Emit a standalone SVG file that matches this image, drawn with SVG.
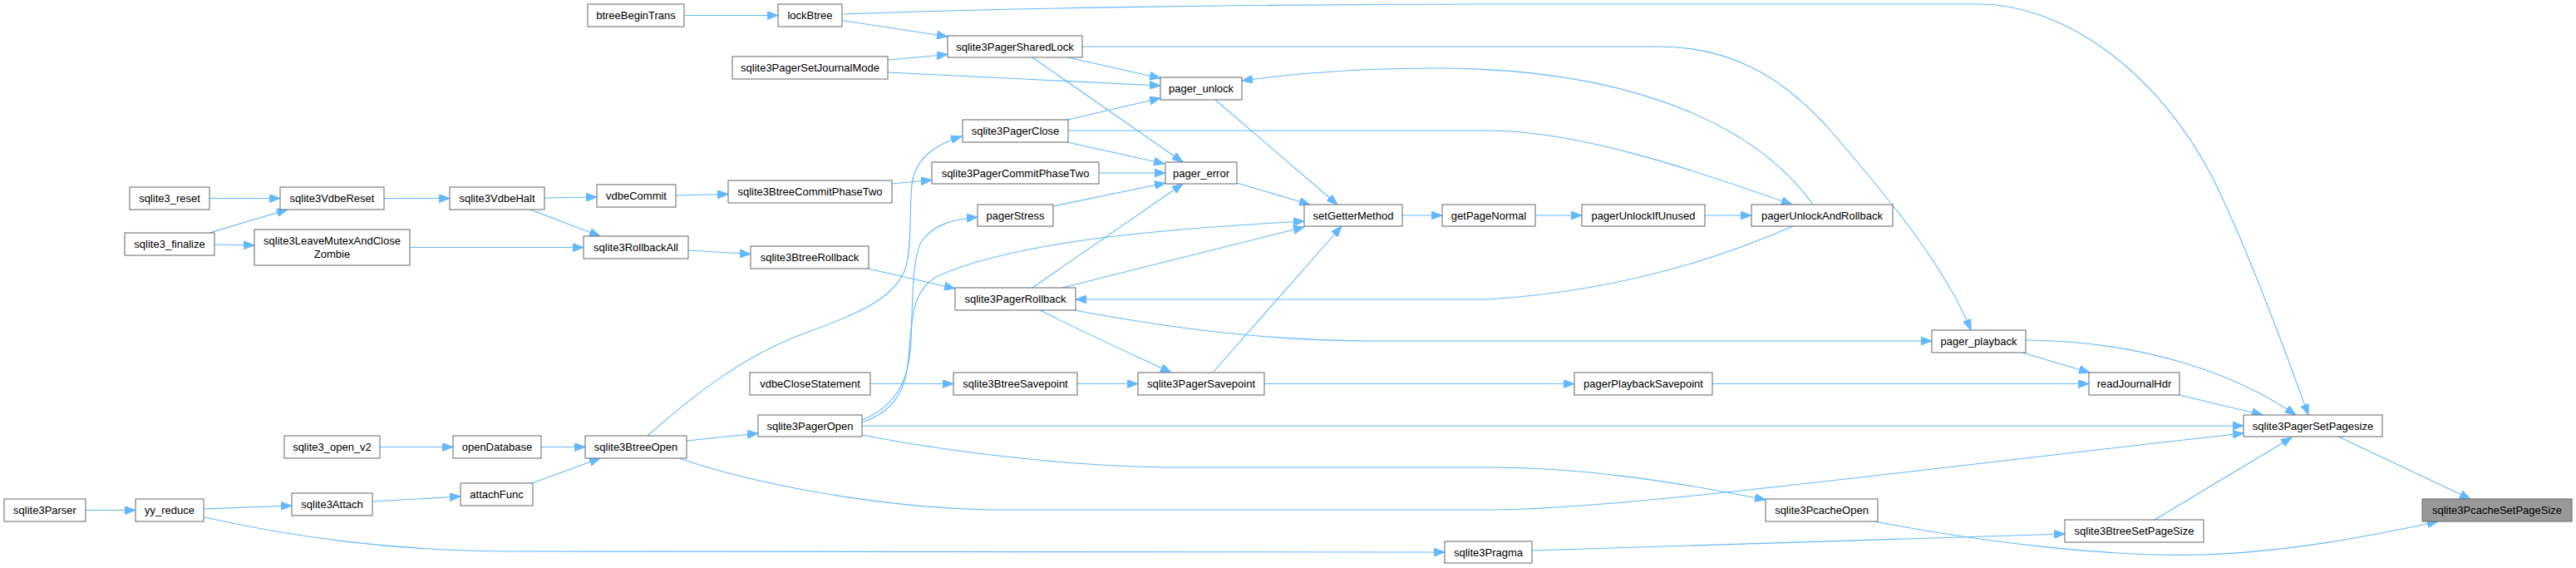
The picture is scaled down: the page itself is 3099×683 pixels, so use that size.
<svg xmlns="http://www.w3.org/2000/svg" width="3099" height="683" viewBox="0 0 3099 683">
<style>
.n rect{fill:#ffffff;stroke:#666666;stroke-width:1}
.root rect{fill:#999999;stroke:#666666;stroke-width:1}
text{font-family:"Liberation Sans",Arial,sans-serif;font-size:13px;fill:#000000;text-anchor:middle}
.e path{fill:none;stroke:#63b8ff;stroke-width:1.1;marker-end:url(#a)}
</style>
<defs>
<marker id="a" markerWidth="14" markerHeight="10" refX="13" refY="5" orient="auto" markerUnits="userSpaceOnUse">
<path d="M0,0 L13,5 L0,10 z" fill="#63b8ff" stroke="#63b8ff" stroke-width="1"/>
</marker>
</defs>
<rect width="3099" height="683" fill="#ffffff"/>
<g id="edges" class="e">
<path d="M252,238.5 L337,238.5"/>
<path d="M252,280 L346,252"/>
<path d="M258,294 L306,295"/>
<path d="M462,238.5 L541,238.5"/>
<path d="M493,297.5 L702,297.5"/>
<path d="M655,238 L718,237"/>
<path d="M638,252 L722,284"/>
<path d="M813,235 L876,233.5"/>
<path d="M828,301 L903,305.5"/>
<path d="M1073,221 L1121,216.5"/>
<path d="M1044,323 L1149,347"/>
<path d="M823,18.5 L936,18.5"/>
<path d="M1013,24.5 L1140,44"/>
<path d="M1013,17 C1200,10 1500,5 1800,5 L2380,5 C2480,5 2590,80 2660,210 C2700,290 2745,410 2777,499"/>
<path d="M1068,72 L1140,65.5"/>
<path d="M1068,87 L1396,103"/>
<path d="M1284,69 L1396,94"/>
<path d="M1242,69 L1423,195"/>
<path d="M1302,56 L1995,56 C2080,56 2140,90 2196,150 C2270,235 2340,320 2371,397"/>
<path d="M2181,246 C2120,160 1980,82 1727,82 C1640,82 1560,88 1494,97"/>
<path d="M1285,157 L1790,157 C1900,157 2040,205 2156,246"/>
<path d="M1462,120 L1609,246"/>
<path d="M1488,220 L1576,246"/>
<path d="M1278,346 L1569,273"/>
<path d="M1459,448 L1614,272"/>
<path d="M1687,259 L1735,259"/>
<path d="M1847,259 L1903,259"/>
<path d="M2051,259 L2107,259"/>
<path d="M1284,171 L1401,197"/>
<path d="M1322,208 L1402,208"/>
<path d="M1267,248 L1402,220"/>
<path d="M1242,346 L1423,221"/>
<path d="M1284,144 L1396,118"/>
<path d="M2157,272 C2070,310 1950,350 1790,360 L1294,360"/>
<path d="M1292,373 C1400,393 1520,410 1650,410 L2324,410"/>
<path d="M1251,373 C1300,398 1360,425 1409,448"/>
<path d="M1296,461.5 L1369,461.5"/>
<path d="M1047,461.5 L1147,461.5"/>
<path d="M1521,461.5 L1894,461.5"/>
<path d="M2060,461.5 L2513,461.5"/>
<path d="M2433,424 L2514,448"/>
<path d="M2437,409 C2580,410 2690,450 2762,499"/>
<path d="M2622,475 L2722,499"/>
<path d="M1037,512 L2699,512"/>
<path d="M817,551 C900,580 1050,610 1190,613 L1790,613 C1950,613 2300,565 2699,521"/>
<path d="M1037,523 C1150,545 1300,562 1420,562 L1790,562 C1900,562 2010,578 2124,601"/>
<path d="M2255,627 C2400,655 2550,670 2650,667 C2750,664 2850,645 2933,627"/>
<path d="M2813,525 L2972,600"/>
<path d="M2592,625 L2757,526"/>
<path d="M1843,662 L2484,642"/>
<path d="M246,622 C350,645 470,663 620,663 L1738,664"/>
<path d="M245,612 L351,608"/>
<path d="M103,613.5 L163,613.5"/>
<path d="M448,603 L554,597"/>
<path d="M640,581 L722,551"/>
<path d="M457,537.5 L545,537.5"/>
<path d="M651,537.5 L704,537.5"/>
<path d="M826,530 L912,521"/>
<path d="M779,524 C840,470 900,425 970,400 C1040,375 1080,355 1090,320 C1097,295 1094,250 1097,222 C1100,195 1120,175 1157,164"/>
<path d="M1037,505 C1080,488 1094,455 1096,410 C1098,350 1098,305 1110,288 C1125,270 1145,264 1176,261"/>
<path d="M1037,508 C1075,495 1090,470 1093,430 C1097,380 1098,350 1126,333 C1220,290 1400,275 1569,266"/>
</g>
<g id="sqlite3PcacheSetPageSize" class="root"><rect x="2914" y="600" width="180" height="27"/><text x="3004" y="618">sqlite3PcacheSetPageSize</text></g>
<g id="sqlite3PagerSetPagesize" class="n"><rect x="2699" y="499" width="167" height="26"/><text x="2782.5" y="516.5">sqlite3PagerSetPagesize</text></g>
<g id="sqlite3BtreeSetPageSize" class="n"><rect x="2484" y="625" width="167" height="27"/><text x="2567.5" y="643">sqlite3BtreeSetPageSize</text></g>
<g id="sqlite3PcacheOpen" class="n"><rect x="2124" y="600" width="135" height="27"/><text x="2191.5" y="618">sqlite3PcacheOpen</text></g>
<g id="readJournalHdr" class="n"><rect x="2513" y="448" width="109" height="27"/><text x="2567.5" y="466">readJournalHdr</text></g>
<g id="pager_playback" class="n"><rect x="2324" y="397" width="113" height="27"/><text x="2380.5" y="415">pager_playback</text></g>
<g id="pagerUnlockAndRollback" class="n"><rect x="2107" y="246" width="170" height="26"/><text x="2192" y="263.5">pagerUnlockAndRollback</text></g>
<g id="pagerUnlockIfUnused" class="n"><rect x="1903" y="246" width="148" height="26"/><text x="1977" y="263.5">pagerUnlockIfUnused</text></g>
<g id="pagerPlaybackSavepoint" class="n"><rect x="1894" y="448" width="166" height="27"/><text x="1977" y="466">pagerPlaybackSavepoint</text></g>
<g id="getPageNormal" class="n"><rect x="1735" y="246" width="112" height="26"/><text x="1791" y="263.5">getPageNormal</text></g>
<g id="sqlite3Pragma" class="n"><rect x="1738" y="651" width="105" height="26"/><text x="1790.5" y="668.5">sqlite3Pragma</text></g>
<g id="setGetterMethod" class="n"><rect x="1569" y="246" width="118" height="26"/><text x="1628" y="263.5">setGetterMethod</text></g>
<g id="pager_unlock" class="n"><rect x="1396" y="93" width="98" height="27"/><text x="1445" y="111">pager_unlock</text></g>
<g id="pager_error" class="n"><rect x="1402" y="195" width="86" height="26"/><text x="1445" y="212.5">pager_error</text></g>
<g id="sqlite3PagerSavepoint" class="n"><rect x="1369" y="448" width="152" height="27"/><text x="1445" y="466">sqlite3PagerSavepoint</text></g>
<g id="sqlite3PagerSharedLock" class="n"><rect x="1140" y="43" width="162" height="26"/><text x="1221" y="60.5">sqlite3PagerSharedLock</text></g>
<g id="sqlite3PagerClose" class="n"><rect x="1158" y="144" width="127" height="27"/><text x="1221.5" y="162">sqlite3PagerClose</text></g>
<g id="sqlite3PagerCommitPhaseTwo" class="n"><rect x="1121" y="195" width="201" height="26"/><text x="1221.5" y="212.5">sqlite3PagerCommitPhaseTwo</text></g>
<g id="pagerStress" class="n"><rect x="1176" y="246" width="91" height="26"/><text x="1221.5" y="263.5">pagerStress</text></g>
<g id="sqlite3PagerRollback" class="n"><rect x="1149" y="346" width="145" height="27"/><text x="1221.5" y="364">sqlite3PagerRollback</text></g>
<g id="sqlite3BtreeSavepoint" class="n"><rect x="1147" y="448" width="149" height="27"/><text x="1221.5" y="466">sqlite3BtreeSavepoint</text></g>
<g id="lockBtree" class="n"><rect x="936" y="5" width="77" height="27"/><text x="974.5" y="23">lockBtree</text></g>
<g id="sqlite3PagerSetJournalMode" class="n"><rect x="881" y="68" width="187" height="27"/><text x="974.5" y="86">sqlite3PagerSetJournalMode</text></g>
<g id="sqlite3BtreeCommitPhaseTwo" class="n"><rect x="876" y="217" width="197" height="27"/><text x="974.5" y="235">sqlite3BtreeCommitPhaseTwo</text></g>
<g id="sqlite3BtreeRollback" class="n"><rect x="903" y="296" width="142" height="27"/><text x="974" y="314">sqlite3BtreeRollback</text></g>
<g id="vdbeCloseStatement" class="n"><rect x="902" y="448" width="145" height="27"/><text x="974.5" y="466">vdbeCloseStatement</text></g>
<g id="sqlite3PagerOpen" class="n"><rect x="912" y="499" width="125" height="26"/><text x="974.5" y="516.5">sqlite3PagerOpen</text></g>
<g id="btreeBeginTrans" class="n"><rect x="707" y="5" width="116" height="27"/><text x="765" y="23">btreeBeginTrans</text></g>
<g id="vdbeCommit" class="n"><rect x="718" y="222" width="95" height="27"/><text x="765.5" y="240">vdbeCommit</text></g>
<g id="sqlite3RollbackAll" class="n"><rect x="702" y="284" width="126" height="27"/><text x="765" y="302">sqlite3RollbackAll</text></g>
<g id="sqlite3BtreeOpen" class="n"><rect x="704" y="524" width="122" height="27"/><text x="765" y="542">sqlite3BtreeOpen</text></g>
<g id="sqlite3VdbeHalt" class="n"><rect x="541" y="225" width="114" height="27"/><text x="598" y="243">sqlite3VdbeHalt</text></g>
<g id="openDatabase" class="n"><rect x="545" y="524" width="106" height="27"/><text x="598" y="542">openDatabase</text></g>
<g id="attachFunc" class="n"><rect x="554" y="581" width="87" height="27"/><text x="597.5" y="599">attachFunc</text></g>
<g id="sqlite3VdbeReset" class="n"><rect x="337" y="225" width="125" height="27"/><text x="399.5" y="243">sqlite3VdbeReset</text></g>
<g id="sqlite3LeaveMutexAndCloseZombie" class="n"><rect x="306" y="276" width="187" height="43"/><text x="399.5" y="294">sqlite3LeaveMutexAndClose</text><text x="399.5" y="310">Zombie</text></g>
<g id="sqlite3_open_v2" class="n"><rect x="342" y="524" width="115" height="27"/><text x="399.5" y="542">sqlite3_open_v2</text></g>
<g id="sqlite3Attach" class="n"><rect x="351" y="593" width="97" height="27"/><text x="399.5" y="611">sqlite3Attach</text></g>
<g id="sqlite3_reset" class="n"><rect x="156" y="225" width="96" height="27"/><text x="204" y="243">sqlite3_reset</text></g>
<g id="sqlite3_finalize" class="n"><rect x="150" y="280" width="108" height="27"/><text x="204" y="298">sqlite3_finalize</text></g>
<g id="yy_reduce" class="n"><rect x="163" y="600" width="82" height="27"/><text x="204" y="618">yy_reduce</text></g>
<g id="sqlite3Parser" class="n"><rect x="5" y="600" width="98" height="27"/><text x="54" y="618">sqlite3Parser</text></g>
</svg>
